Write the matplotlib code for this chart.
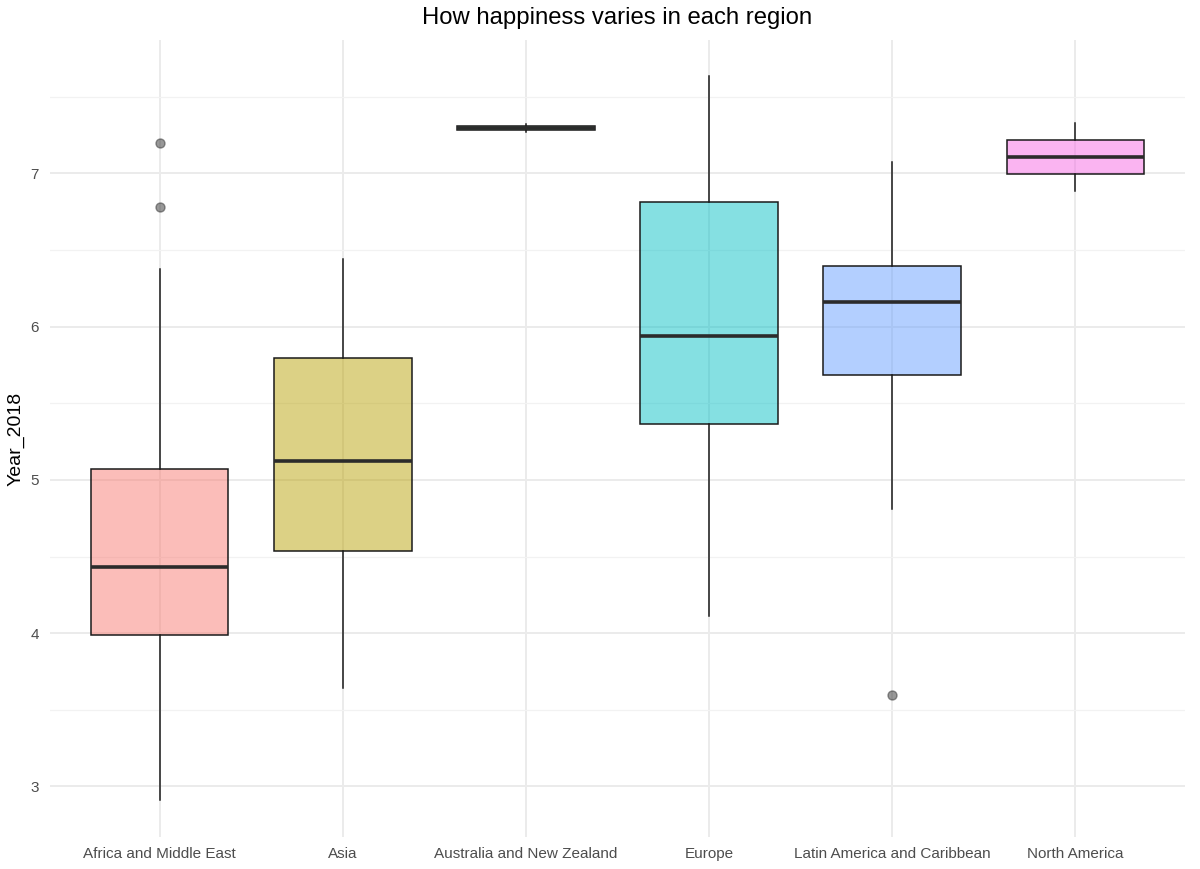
import matplotlib
matplotlib.use("Agg")
import matplotlib.pyplot as plt
from matplotlib.ticker import MultipleLocator
from matplotlib.colors import to_rgba

plt.rcParams['font.family'] = ['Liberation Sans', 'DejaVu Sans']

regions = ["Africa and Middle East", "Asia", "Australia and New Zealand",
           "Europe", "Latin America and Caribbean", "North America"]
q1 = [3.985, 4.535, 7.285, 5.362, 5.682, 6.996]
median = [4.429, 5.121, 7.298, 5.936, 6.158, 7.107]
q3 = [5.069, 5.793, 7.311, 6.811, 6.393, 7.218]
whislo = [2.909, 3.639, 7.272, 4.109, 4.807, 6.886]
whishi = [6.374, 6.439, 7.324, 7.633, 7.072, 7.328]
outliers = [[7.196, 6.778], [], [], [], [3.594], []]
colors = ["#F8766D", "#B79F00", "#00BA38", "#00BFC4", "#619CFF", "#F564E3"]

fig = plt.figure(figsize=(12, 8.69), dpi=100)
ax = fig.add_axes([50/1200, 1-837/869, (1185-50)/1200, (837-40)/869])

stats = []
for i, r in enumerate(regions):
    stats.append(dict(label=r, q1=q1[i], med=median[i], q3=q3[i],
                      whislo=whislo[i], whishi=whishi[i], fliers=outliers[i]))

pos = list(range(1, len(regions) + 1))
bp = ax.bxp(stats, positions=pos, widths=0.75, patch_artist=True, showcaps=False,
            boxprops=dict(edgecolor="#1a1a1a", linewidth=1.1),
            medianprops=dict(color="#2b2b2b", linewidth=2.6, solid_capstyle="butt"),
            whiskerprops=dict(color="#1a1a1a", linewidth=1.1),
            flierprops=dict(marker="o", markerfacecolor="#333333", markeredgecolor="#333333",
                            alpha=0.5, markersize=6.5))
for patch, c in zip(bp["boxes"], colors):
    patch.set_facecolor(to_rgba(c, 0.48))
    patch.set_edgecolor("#1a1a1a")

ax.set_xlim(0.4, 6.6)
ax.set_ylim(2.67, 7.87)
ax.yaxis.set_major_locator(MultipleLocator(1))
ax.yaxis.set_minor_locator(MultipleLocator(0.5))
ax.set_xticks(pos)
ax.set_xticklabels(regions)
ax.grid(True, which="major", color="#EBEBEB", linewidth=1.4)
ax.grid(True, which="minor", axis="y", color="#F2F2F2", linewidth=0.9)
ax.set_axisbelow(True)
for s in ax.spines.values():
    s.set_visible(False)
ax.tick_params(axis="both", which="both", length=0, labelsize=11, labelcolor="#4D4D4D")
ax.tick_params(axis="x", pad=7)
ax.tick_params(axis="y", pad=8)
ax.set_ylabel("Year_2018", fontsize=14, color="black", labelpad=4)
fig.text((50 + 1185) / 2 / 1200, 1 - 18 / 869, "How happiness varies in each region",
         fontsize=17.2, ha="center", va="center")

fig.savefig("out.png", dpi=100, facecolor="white")
